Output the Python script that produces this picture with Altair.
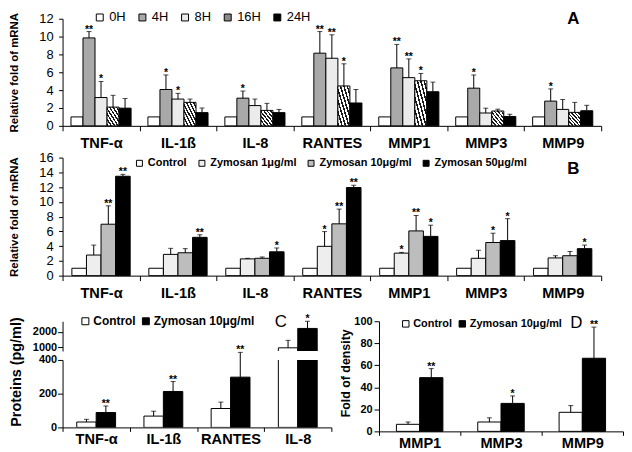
import altair as alt
import pandas as pd

FONT = "Liberation Sans"

# ---------------- data ----------------
cats_AB = ["TNF-α", "IL-1ß", "IL-8", "RANTES", "MMP1", "MMP3", "MMP9"]

# Panel A: time course
series_A = ["0H", "4H", "8H", "16H", "24H"]
colors_A = ["#ffffff", "#a9a9a9", "#ebebeb", "#8a8a8a", "#000000"]
a_0h = [1, 1, 1, 1, 1, 1, 1]
a_4h = [9.85, 4.07, 3.10, 8.14, 6.49, 4.22, 2.77]
a_8h = [3.17, 3.00, 2.27, 7.57, 5.40, 1.44, 1.84]
a_16h = [2.10, 2.63, 1.73, 4.47, 5.05, 1.66, 1.51]
a_24h = [1.98, 1.48, 1.48, 2.56, 3.82, 1.05, 1.69]
a_0h_top = [None, None, None, None, None, None, None]
a_4h_top = [10.56, 5.70, 3.90, 10.56, 9.12, 5.70, 4.14]
a_8h_top = [4.97, 3.64, 3.00, 10.20, 7.50, 1.98, 2.95]
a_16h_top = [3.42, 3.00, 2.52, 6.95, 5.87, 1.87, 2.63]
a_24h_top = [3.06, 2.00, 1.84, 4.07, 4.90, 1.30, 2.30]
a_0h_star = ["", "", "", "", "", "", ""]
a_4h_star = ["**", "*", "*", "**", "**", "*", "*"]
a_8h_star = ["*", "*", "", "**", "**", "", ""]
a_16h_star = ["", "", "", "*", "*", "", ""]
a_24h_star = ["", "", "", "", "", "", ""]

# Panel B: dose response
series_B = ["Control", "Zymosan 1μg/ml", "Zymosan 10μg/ml", "Zymosan 50μg/ml"]
colors_B = ["#ffffff", "#eeeeee", "#bdbdbd", "#000000"]
b_ctrl = [1, 1, 1, 1, 1, 1, 1]
b_z1 = [2.79, 2.88, 2.27, 3.97, 3.05, 2.35, 2.40]
b_z10 = [6.97, 3.10, 2.35, 7.02, 6.06, 4.49, 2.70]
b_z50 = [13.47, 5.19, 3.23, 11.94, 5.32, 4.75, 3.66]
b_ctrl_top = [None, None, None, None, None, None, None]
b_z1_top = [4.14, 3.70, 2.35, 5.97, 3.15, 3.44, 2.70]
b_z10_top = [9.46, 3.66, 2.53, 9.02, 8.15, 5.75, 3.27]
b_z50_top = [13.73, 5.54, 3.75, 12.25, 6.84, 7.72, 4.14]
b_ctrl_star = ["", "", "", "", "", "", ""]
b_z1_star = ["", "", "", "*", "*", "", ""]
b_z10_star = ["**", "", "", "**", "**", "*", ""]
b_z50_star = ["**", "**", "*", "**", "*", "*", "*"]

# Panel C: proteins
cats_C = ["TNF-α", "IL-1ß", "RANTES", "IL-8"]
series_CD = ["Control", "Zymosan 10μg/ml"]
colors_CD = ["#ffffff", "#000000"]
c_ctrl = [32, 67, 112, 960]
c_zym = [88, 213, 298, 2230]
c_ctrl_top = [48, 96, 150, 1450]
c_zym_top = [127, 272, 445, 2700]
c_ctrl_star = ["", "", "", ""]
c_zym_star = ["**", "**", "**", "*"]

# Panel D: density
cats_D = ["MMP1", "MMP3", "MMP9"]
d_ctrl = [6.4, 8.5, 17.3]
d_zym = [48.8, 25.4, 66.4]
d_ctrl_top = [8.5, 12.3, 23.4]
d_zym_top = [57.0, 32.2, 94.7]
d_ctrl_star = ["", "", ""]
d_zym_star = ["**", "*", "**"]

panel_letters = ["A", "B", "C", "D"]


def frame(cats, series, values, tops, stars):
    rows = []
    for s, vals, tps, sts in zip(series, values, tops, stars):
        for c, v, t, st in zip(cats, vals, tps, sts):
            rows.append({"cat": c, "series": s, "value": v, "top": t, "star": st})
    return pd.DataFrame(rows)


df_A = frame(cats_AB, series_A, [a_0h, a_4h, a_8h, a_16h, a_24h],
             [a_0h_top, a_4h_top, a_8h_top, a_16h_top, a_24h_top],
             [a_0h_star, a_4h_star, a_8h_star, a_16h_star, a_24h_star])
df_B = frame(cats_AB, series_B, [b_ctrl, b_z1, b_z10, b_z50],
             [b_ctrl_top, b_z1_top, b_z10_top, b_z50_top],
             [b_ctrl_star, b_z1_star, b_z10_star, b_z50_star])
df_C = frame(cats_C, series_CD, [c_ctrl, c_zym], [c_ctrl_top, c_zym_top],
             [c_ctrl_star, c_zym_star])
df_D = frame(cats_D, series_CD, [d_ctrl, d_zym], [d_ctrl_top, d_zym_top],
             [d_ctrl_star, d_zym_star])

# diagonal hatch fill for the 16H series
_stops = []
for i in range(7):
    a, b, c = i / 7, (i + 0.45) / 7, (i + 1) / 7
    _stops += [{"offset": a, "color": "#1a1a1a"}, {"offset": b, "color": "#1a1a1a"},
               {"offset": b, "color": "#ffffff"}, {"offset": c, "color": "#ffffff"}]
HATCH = {"gradient": "linear", "x1": 0, "y1": 1, "x2": 1, "y2": 0, "stops": _stops}

CAT_SIZE = 14.7


def xaxis(label_pad, tick):
    return alt.Axis(title=None, labelAngle=0, tickBand="extent", tickSize=tick,
                    labelPadding=label_pad, labelFont=FONT, labelFontSize=CAT_SIZE,
                    labelFontWeight="bold", labelColor="black", domainColor="black",
                    tickColor="black", grid=False)


def yaxis(values, title, lab_size, lab_weight, lab_pad, tick, title_size=11,
          title_x=-48, title_y=54):
    kw = dict(values=values, format="d", tickSize=tick, labelPadding=lab_pad,
              labelFont=FONT, labelFontSize=lab_size, labelFontWeight=lab_weight,
              labelColor="black", domainColor="black", tickColor="black", grid=False)
    if title:
        kw.update(title=title, titleFont=FONT, titleFontSize=title_size,
                  titleFontWeight="bold", titleColor="black", titleAngle=270,
                  titleAlign="center", titleBaseline="middle", titleX=title_x,
                  titleY=title_y)
    else:
        kw.update(title=None)
    return alt.Axis(**kw)


def legend(x, y, sym, size, weight, colpad, offset):
    return alt.Legend(title=None, orient="none", legendX=x, legendY=y,
                      direction="horizontal", symbolType="square", symbolSize=sym,
                      symbolStrokeColor="black", symbolStrokeWidth=1,
                      labelFont=FONT, labelFontSize=size, labelFontWeight=weight,
                      labelColor="black", columnPadding=colpad, labelOffset=offset,
                      padding=0, rowPadding=0)


def letter(text, px, py, weight):
    return alt.Chart(pd.DataFrame({"label": [text]})).mark_text(
        font=FONT, fontSize=17, fontWeight=weight, align="center", baseline="middle",
        color="black").encode(text="label:N", x=alt.value(px), y=alt.value(py))


def layers(df, cats, series, colors, xax, yax, ydom, leg, pad_outer, hatch=None,
           clip=False, bar_filter=None, err_filter=None, extra=None):
    x = alt.X("cat:N", sort=cats, scale=alt.Scale(domain=cats, paddingInner=0, paddingOuter=0),
              axis=xax)
    xo = alt.XOffset("series:N", sort=series,
                     scale=alt.Scale(domain=series, paddingInner=0, paddingOuter=pad_outer))
    ysc = alt.Scale(domain=ydom, nice=False, zero=False)
    fill_def = alt.Fill("series:N", sort=series, scale=alt.Scale(domain=series, range=colors),
                        legend=leg)
    fill = (alt.condition(f"datum.series === '{hatch}'", alt.value(HATCH), fill_def)
            if hatch else fill_def)
    base = alt.Chart(df)
    bsrc = base.transform_filter(bar_filter) if bar_filter else base
    bars = bsrc.mark_bar(stroke="black", strokeWidth=1, clip=clip).encode(
        x=x, xOffset=xo, y=alt.Y("value:Q", scale=ysc, axis=yax), y2=alt.datum(0), fill=fill)
    esrc = base.transform_filter("isValid(datum.top)")
    if err_filter:
        esrc = esrc.transform_filter(err_filter)
    rule = esrc.mark_rule(color="black", strokeWidth=1).encode(
        x=x, xOffset=xo, y=alt.Y("value:Q", scale=ysc, axis=yax), y2="top:Q")
    cap = esrc.mark_tick(orient="horizontal", color="black", thickness=1, size=5).encode(
        x=x, xOffset=xo, y=alt.Y("top:Q", scale=ysc, axis=yax))
    star = esrc.mark_text(font=FONT, fontSize=10.5, fontWeight="bold", baseline="alphabetic",
                          dy=1, color="black").encode(
        x=x, xOffset=xo, y=alt.Y("top:Q", scale=ysc, axis=yax), text="star:N")
    parts = [bars, rule, cap, star]
    if extra is not None:
        parts.append(extra)
    return alt.layer(*parts)


chart_A = layers(
    df_A, cats_AB, series_A, colors_A, xaxis(5, 5),
    yaxis(list(range(0, 13, 2)), "Relative fold of mRNA", 13, "normal", 5.5, 4,
          title_size=11.5, title_x=-48, title_y=54),
    [0, 12], legend(31, -8, 49, 13, "normal", 10, 3), 0.7, hatch="16H",
    extra=letter(panel_letters[0], 515, 0.5, "bold"),
).properties(width=543, height=108)

chart_B = layers(
    df_B, cats_AB, series_B, colors_B, xaxis(5, 5),
    yaxis(list(range(0, 17, 2)), "Relative fold of mRNA", 13, "normal", 5.5, 4,
          title_size=11.5, title_x=-48, title_y=59.5),
    [0, 16], legend(72, 0, 36, 11, "bold", 9, 3), 0.64,
    extra=letter(panel_letters[1], 515, 11.4, "bold"),
).properties(width=543, height=119)

chart_C_up = layers(
    df_C, cats_C, series_CD, colors_CD, None,
    yaxis([1000, 2000], None, 11, "bold", 1, 5),
    [750, 2700], legend(17, -6, 49, 12, "bold", 4, 2), 0.73,
    clip=True, bar_filter="datum.cat === 'IL-8'", err_filter="datum.cat === 'IL-8'",
    extra=letter(panel_letters[2], 220, 1, "normal"),
).properties(width=271, height=30)

chart_C_low = layers(
    df_C, cats_C, series_CD, colors_CD, xaxis(0, 4),
    yaxis([0, 200, 400], "Proteins (pg/ml)", 11, "bold", 1, 5,
          title_size=14.5, title_x=-46, title_y=11.7),
    [0, 400], None, 0.73,
    clip=True, err_filter="datum.cat !== 'IL-8'",
).properties(width=271, height=68)

chart_C = alt.vconcat(chart_C_up, chart_C_low, spacing=9, bounds="flush").resolve_legend(
    fill="independent")

chart_D = layers(
    df_D, cats_D, series_CD, colors_CD, xaxis(0, 4),
    yaxis([0, 20, 40, 60, 80, 100], "Fold of density", 11, "bold", 2, 5,
          title_size=12.5, title_x=-34, title_y=52),
    [0, 100], legend(21.5, -3, 42, 11, "bold", 4, 2), 0.75,
    extra=letter(panel_letters[3], 199, 2, "normal"),
).properties(width=246, height=111)

row3 = alt.hconcat(chart_C, chart_D, spacing=7).resolve_scale(
    fill="independent", xOffset="independent").resolve_legend(fill="independent")

top = alt.vconcat(chart_A, chart_B, spacing=1).resolve_scale(
    fill="independent", xOffset="independent").resolve_legend(fill="independent")

chart = alt.vconcat(top, row3, spacing=13, padding=0).resolve_scale(
    fill="independent", xOffset="independent").resolve_legend(
    fill="independent").configure_view(stroke=None)

chart.save("out.html", embed_options={"renderer": "svg", "actions": False})
